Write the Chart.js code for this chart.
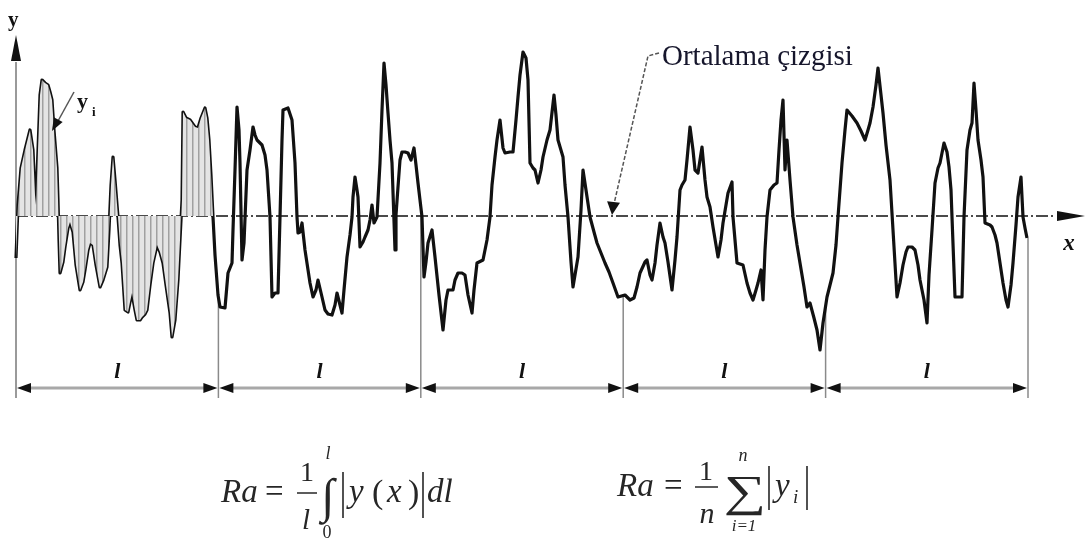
<!DOCTYPE html>
<html>
<head>
<meta charset="utf-8">
<script src="https://cdn.jsdelivr.net/npm/chart.js@4.4.1/dist/chart.umd.min.js"></script>
<style>
  html, body { margin: 0; padding: 0; background: #fff; }
  #wrap { position: relative; width: 1087px; height: 541px; }
</style>
</head>
<body>
<div id="wrap"><canvas id="profile"></canvas></div>
<script>
// five sampling lengths along the trace, heights measured from the mean line
const samplingLength = 202.4;
const lengthCount = 5;
const lengthLabel = 'l';
const meanLineLabel = 'Ortalama çizgisi';

const profileX = [
  0, 2, 5, 9, 14, 17, 19, 20, 22, 24, 26, 29, 32, 34, 36, 38, 41, 42, 43, 44,
  47, 49, 52, 54, 57, 60, 64, 67, 69, 72, 74, 77, 80, 84, 87, 91, 93, 95, 97, 99,
  102, 104, 106, 109, 112, 114, 116, 119, 121, 124, 126, 129, 131, 134, 137, 141, 144, 147, 150, 154,
  156, 159, 162, 164, 166, 167, 170, 174, 179, 182, 185, 189, 191, 193, 195, 197,
  199, 202, 204, 209, 212, 216, 217, 219, 221, 223, 224, 226, 228, 231, 234, 237, 239, 241, 246, 249,
  251, 254, 256, 259, 262, 264, 266, 267, 272, 276, 279, 281, 282, 284, 286, 289, 294, 297, 300, 302,
  306, 309, 312, 316, 319, 321, 324, 326, 328, 331, 334, 336, 337, 339, 341, 342, 344, 347, 349, 352,
  354, 356, 358, 361, 364, 366, 368, 370, 372, 374, 376, 379, 380, 382, 384, 386, 389, 392, 395, 398,
  400, 402, 404, 406, 408, 410, 412, 416, 419, 423, 427, 430, 432, 437, 439, 442, 446, 449, 452, 456,
  458, 461, 467, 471, 474, 476, 479, 481, 484, 487, 489, 494, 497, 500, 502, 504, 507, 510, 512, 514,
  517, 519, 522, 525, 527, 531, 534, 538, 540, 542, 547, 549, 552, 555, 557, 559, 562, 565, 567, 570,
  574, 578, 581, 585, 589, 593, 597, 602, 609, 614, 618, 621, 624, 629, 631, 634, 636, 639, 641, 644,
  647, 649, 652, 656, 659, 661, 664, 666, 669, 671, 674, 677, 679, 682, 684, 686, 689, 691, 694, 697,
  700, 702, 705, 707, 710, 712, 716, 717, 721, 727, 731, 734, 737, 740, 742, 745, 747, 749, 751, 754,
  758, 761, 763, 765, 767, 769, 771, 774, 777, 781, 784, 788, 791, 794, 798, 801, 804, 807, 811, 814,
  817, 820, 822, 826, 829, 831, 836, 841, 845, 849, 852, 854, 857, 860, 862, 865, 867, 870, 874, 877,
  881, 884, 887, 890, 892, 896, 899, 902, 904, 908, 911, 913, 916, 919, 922, 924, 928, 931, 933, 935,
  936, 939, 946, 948, 951, 954, 956, 958, 960, 962, 965, 967, 969, 974, 976, 979, 981, 984, 987, 990,
  992, 995, 997, 1000, 1002, 1005, 1007, 1009, 1011
];
const profileY = [
  -42, 11, 48, 66, 86, 66, 21, 11, 66, 121, 136, 133, 131, 124, 116, 86, 48, 16, -24, -57,
  -46, -31, -12, -6, -16, -49, -74, -66, -54, -34, -27, -29, -49, -71, -64, -51, -14, 31, 59, 36,
  -1, -29, -47, -94, -96, -86, -77, -94, -104, -104, -101, -98, -94, -69, -47, -29, -36, -47, -69, -97,
  -121, -104, -64, -24, 16, 104, 98, 96, 89, 88, 98, 108, 98, 76, 41, -1,
  -39, -79, -91, -92, -57, -47, -14, 46, 109, 86, 53, -44, -27, 46, 66, 89, 81, 76, 71, 61,
  46, -1, -81, -77, -77, -1, 76, 106, 108, 96, 53, -1, -17, -16, -7, -34, -67, -81, -74, -64,
  -81, -94, -98, -99, -89, -77, -89, -97, -74, -41, -19, -1, 19, 39, 26, 19, -31, -26, -21, -14,
  -4, 11, -7, -1, 53, 106, 153, 131, 103, 76, 53, -34, 1, 29, 56, 64, 64, 63, 56, 68,
  51, 33, 16, -1, -61, -46, -27, -14, -41, -79, -114, -84, -74, -74, -64, -57, -57, -59, -79, -97,
  -74, -47, -44, -24, -1, 31, 59, 76, 96, 68, 63, 64, 64, 96, 119, 141, 164, 158, 136, 53,
  48, 46, 33, 46, 59, 76, 86, 121, 101, 76, 59, 31, -1, -46, -71, -59, -41, 6, 46, 26,
  -1, -16, -27, -37, -47, -56, -67, -81, -79, -84, -82, -71, -57, -46, -44, -59, -64, -47, -29, -7,
  -21, -27, -46, -74, -44, -21, 26, 31, 36, 56, 89, 66, 46, 43, 56, 69, 36, 19, 9, -11,
  -29, -41, -24, -7, 11, 23, 34, -1, -47, -49, -67, -77, -84, -74, -67, -54, -84, -34, -1, 26,
  31, 33, 66, 96, 116, 46, 76, 36, -1, -29, -47, -71, -91, -87, -102, -114, -134, -107, -81, -69,
  -57, -29, -1, 53, 86, 106, 100, 93, 85, 76, 86, 93, 109, 131, 148, 121, 103, 71, 36, -14,
  -81, -67, -49, -36, -31, -31, -34, -49, -64, -84, -107, -59, -14, 33, 48, 53, 73, 64, 49, 26,
  -1, -81, -81, -1, 66, 86, 93, 133, 106, 76, 56, 39, -7, -9, -11, -19, -27, -47, -67, -84,
  -91, -69, -47, -9, 19, 39, -1, -12, -22
];

const points = profileX.map((x, i) => ({ x, y: profileY[i] }));
// shaded |y| area, shown over the first sampling length only
const shadedPoints = points.filter(p => p.x <= 197);

const serif = "'Liberation Serif', 'DejaVu Serif', serif";

const canvas = document.getElementById('profile');
const ctx0 = canvas.getContext('2d');

// light grey with vertical strokes for the shaded area
function makeHatch() {
  const tile = document.createElement('canvas');
  tile.width = 6;
  tile.height = 8;
  const t = tile.getContext('2d');
  t.fillStyle = '#e4e4e4';
  t.fillRect(0, 0, 6, 8);
  t.fillStyle = '#a0a0a0';
  t.fillRect(0, 0, 1.5, 8);
  return ctx0.createPattern(tile, 'repeat');
}

function valueAt(x) {
  for (let i = 1; i < profileX.length; i++) {
    if (profileX[i] >= x) {
      const t = (x - profileX[i - 1]) / (profileX[i] - profileX[i - 1]);
      return profileY[i - 1] + t * (profileY[i] - profileY[i - 1]);
    }
  }
  return profileY[profileY.length - 1];
}

function arrowHead(ctx, tx, ty, dx, dy, len, half) {
  const m = Math.hypot(dx, dy);
  const ux = dx / m, uy = dy / m;
  const bx = tx - ux * len, by = ty - uy * len;
  ctx.beginPath();
  ctx.moveTo(tx, ty);
  ctx.lineTo(bx - uy * half, by + ux * half);
  ctx.lineTo(bx + uy * half, by - ux * half);
  ctx.closePath();
  ctx.fill();
}

function text(ctx, s, x, y, size, style, align) {
  ctx.font = (style ? style + ' ' : '') + size + 'px ' + serif;
  ctx.textAlign = align || 'left';
  ctx.textBaseline = 'alphabetic';
  ctx.fillText(s, x, y);
}

function rule(ctx, x1, y1, x2, y2, w) {
  ctx.lineWidth = w;
  ctx.beginPath();
  ctx.moveTo(x1, y1);
  ctx.lineTo(x2, y2);
  ctx.stroke();
}

function drawFormulas(ctx) {
  ctx.save();
  ctx.fillStyle = '#262626';
  ctx.strokeStyle = '#262626';
  ctx.setLineDash([]);

  // Ra = 1/l ∫0^l |y(x)| dl
  text(ctx, 'Ra', 221, 502, 33, 'italic');
  text(ctx, '=', 265, 502, 33);
  text(ctx, '1', 307, 481, 28, '', 'center');
  rule(ctx, 297, 493, 317, 493, 1.5);
  text(ctx, 'l', 306, 529, 29, 'italic', 'center');
  text(ctx, '∫', 328, 512, 48, '', 'center');
  text(ctx, 'l', 328, 459, 18, 'italic', 'center');
  text(ctx, '0', 327, 538, 18, '', 'center');
  rule(ctx, 343, 472, 343, 518, 1.6);
  text(ctx, 'y', 349, 502, 33, 'italic');
  text(ctx, '(', 372, 503, 34);
  text(ctx, 'x', 387, 502, 33, 'italic');
  text(ctx, ')', 408, 503, 34);
  rule(ctx, 423, 472, 423, 518, 1.6);
  text(ctx, 'dl', 427, 502, 33, 'italic');

  // Ra = 1/n Σ_{i=1}^n |y_i|
  text(ctx, 'Ra', 617, 496, 33, 'italic');
  text(ctx, '=', 664, 496, 33);
  text(ctx, '1', 706, 480, 28, '', 'center');
  rule(ctx, 695, 487, 718, 487, 1.5);
  text(ctx, 'n', 707, 523, 30, 'italic', 'center');
  ctx.save();
  ctx.translate(745, 506);
  ctx.scale(1.35, 1);
  text(ctx, '∑', 0, 0, 44, '', 'center');
  ctx.restore();
  text(ctx, 'n', 743, 461, 18, 'italic', 'center');
  text(ctx, 'i=1', 744, 531, 17, 'italic', 'center');
  rule(ctx, 769, 466, 769, 510, 1.6);
  text(ctx, 'y', 775, 496, 33, 'italic');
  text(ctx, 'i', 793, 503, 19, 'italic');
  rule(ctx, 807, 466, 807, 510, 1.6);
  ctx.restore();
}

const decor = {
  id: 'decor',
  beforeDatasetsDraw(chart) {
    const { ctx } = chart;
    const xs = chart.scales.x, ys = chart.scales.y;
    const bottom = ys.getPixelForValue(-182);
    ctx.save();
    // y axis
    ctx.strokeStyle = '#9a9a9a';
    rule(ctx, xs.getPixelForValue(0), ys.getPixelForValue(154), xs.getPixelForValue(0), bottom, 2);
    // boundaries of the sampling lengths
    ctx.strokeStyle = '#8a8a8a';
    for (let k = 1; k <= lengthCount; k++) {
      const x = k * samplingLength;
      const top = Math.min(0, valueAt(x));
      rule(ctx, xs.getPixelForValue(x), ys.getPixelForValue(top), xs.getPixelForValue(x), bottom, 1.5);
    }
    ctx.restore();
  },
  beforeDatasetDraw(chart, args) {
    if (args.index !== 1) return;
    const { ctx } = chart;
    const xs = chart.scales.x, ys = chart.scales.y;
    const y0 = ys.getPixelForValue(0);
    ctx.save();
    // mean line, dash-dot
    ctx.strokeStyle = '#111';
    ctx.setLineDash([12, 3, 2, 3]);
    rule(ctx, xs.getPixelForValue(0), y0, xs.getPixelForValue(1040), y0, 1.5);
    ctx.restore();
  },
  afterDatasetsDraw(chart) {
    const { ctx } = chart;
    const xs = chart.scales.x, ys = chart.scales.y;
    const x0 = xs.getPixelForValue(0);
    const y0 = ys.getPixelForValue(0);
    ctx.save();
    ctx.fillStyle = '#111';
    ctx.strokeStyle = '#111';

    // axis arrowheads and names
    arrowHead(ctx, xs.getPixelForValue(1069), y0, 1, 0, 28, 5);
    arrowHead(ctx, x0, ys.getPixelForValue(181), 0, -1, 26, 5);
    text(ctx, 'y', 8, 26, 21, 'bold');
    text(ctx, 'x', 1069, 250, 23, 'italic bold', 'center');

    // y_i callout
    ctx.strokeStyle = '#555';
    rule(ctx, 74, 92, 58, 121, 1.5);
    arrowHead(ctx, 52, 131, -0.48, 0.88, 13, 5);
    text(ctx, 'y', 77, 108, 22, 'bold');
    text(ctx, 'i', 92, 116, 13, 'bold');

    // mean line callout
    ctx.setLineDash([4, 2]);
    ctx.strokeStyle = '#555';
    ctx.lineWidth = 1.5;
    ctx.beginPath();
    ctx.moveTo(659, 53);
    ctx.lineTo(648, 56);
    ctx.lineTo(614, 204);
    ctx.stroke();
    ctx.setLineDash([]);
    arrowHead(ctx, 612, 215, -0.12, 1, 13, 6.5);
    ctx.fillStyle = '#16162c';
    text(ctx, meanLineLabel, 662, 65, 29);

    // sampling length dimensions
    const dimY = ys.getPixelForValue(-172);
    const labY = ys.getPixelForValue(-162);
    for (let k = 0; k < lengthCount; k++) {
      const a = xs.getPixelForValue(k * samplingLength);
      const b = xs.getPixelForValue((k + 1) * samplingLength);
      ctx.strokeStyle = '#a8a8a8';
      rule(ctx, a + 10, dimY, b - 10, dimY, 3);
      ctx.fillStyle = '#111';
      arrowHead(ctx, a + 1, dimY, -1, 0, 14, 5);
      arrowHead(ctx, b - 1, dimY, 1, 0, 14, 5);
      text(ctx, lengthLabel, (a + b) / 2, labY, 22, 'italic bold', 'center');
    }
    ctx.restore();

    drawFormulas(ctx);
  }
};

new Chart(canvas, {
  type: 'line',
  data: {
    datasets: [
      {
        data: shadedPoints,
        borderWidth: 0,
        pointRadius: 0,
        fill: 'origin',
        backgroundColor: makeHatch(),
        tension: 0
      },
      {
        data: points,
        borderColor: '#111',
        borderWidth: 3.2,
        borderJoinStyle: 'round',
        pointRadius: 0,
        fill: false,
        tension: 0
      }
    ]
  },
  options: {
    responsive: true,
    maintainAspectRatio: false,
    animation: false,
    events: [],
    layout: { padding: 0 },
    plugins: { legend: { display: false }, tooltip: { enabled: false } },
    scales: {
      x: { type: 'linear', display: false, min: -16, max: 1071 },
      y: { type: 'linear', display: false, min: -325, max: 216 }
    }
  },
  plugins: [decor]
});
</script>
</body>
</html>
